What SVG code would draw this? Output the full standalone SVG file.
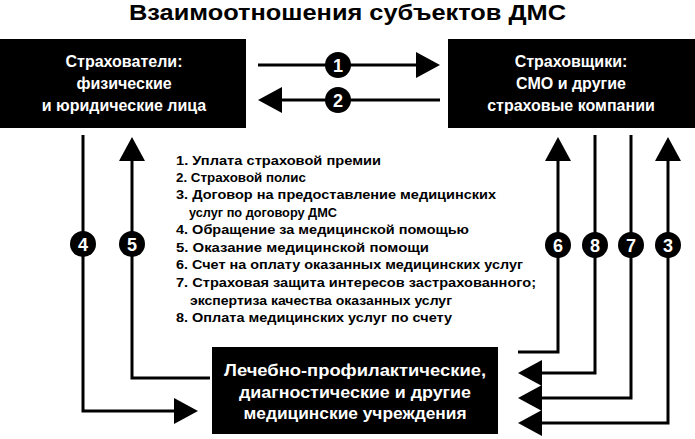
<svg xmlns="http://www.w3.org/2000/svg" width="695" height="439" viewBox="0 0 695 439">
<style>
.box{fill:#000}
.bt{font-family:"Liberation Sans",Arial,sans-serif;font-weight:bold;font-size:16px;fill:#fff;text-anchor:middle}
.title{font-family:"Liberation Sans",Arial,sans-serif;font-weight:bold;font-size:22px;fill:#000;text-anchor:middle}
.lg{font-family:"Liberation Sans",Arial,sans-serif;font-weight:bold;font-size:12.5px;fill:#000}
.ln{fill:none;stroke:#000;stroke-width:3}
.num{font-family:"Liberation Sans",Arial,sans-serif;font-weight:bold;font-size:18px;fill:#fff;text-anchor:middle}
</style>
<defs>
<marker id="ah" markerUnits="userSpaceOnUse" markerWidth="24" markerHeight="26" refX="14" refY="13" orient="auto-start-reverse" viewBox="0 0 24 26">
<path d="M0,0 L24,13 L0,26 Z" fill="#000"/>
</marker>
</defs>
<rect width="695" height="439" fill="#fff"/>
<text class="title" x="347.5" y="20" textLength="437" lengthAdjust="spacingAndGlyphs">Взаимоотношения субъектов ДМС</text>

<g id="insurants">
<rect class="box" x="0" y="39" width="246" height="89"/>
<text class="bt" x="124" y="67">Страхователи:</text>
<text class="bt" x="124" y="89">физические</text>
<text class="bt" x="124" y="111">и юридические лица</text>
</g>
<g id="insurers">
<rect class="box" x="448" y="39" width="247" height="89"/>
<text class="bt" x="571" y="67">Страховщики:</text>
<text class="bt" x="571" y="89">СМО и другие</text>
<text class="bt" x="571" y="111">страховые компании</text>
</g>
<g id="clinics">
<rect class="box" x="212" y="347" width="286" height="87"/>
<text class="bt" x="355" y="376" textLength="262" lengthAdjust="spacingAndGlyphs">Лечебно-профилактические,</text>
<text class="bt" x="355" y="398" textLength="232" lengthAdjust="spacingAndGlyphs">диагностические и другие</text>
<text class="bt" x="355" y="419" textLength="223" lengthAdjust="spacingAndGlyphs">медицинские учреждения</text>
</g>

<g id="legend">
<text class="lg" x="176" y="164.5" textLength="205" lengthAdjust="spacingAndGlyphs">1. Уплата страховой премии</text>
<text class="lg" x="176" y="181.5" textLength="130" lengthAdjust="spacingAndGlyphs">2. Страховой полис</text>
<text class="lg" x="176" y="199" textLength="320" lengthAdjust="spacingAndGlyphs">3. Договор на предоставление медицинских</text>
<text class="lg" x="189" y="216.5" textLength="148" lengthAdjust="spacingAndGlyphs">услуг по договору ДМС</text>
<text class="lg" x="176" y="234" textLength="293" lengthAdjust="spacingAndGlyphs">4. Обращение за медицинской помощью</text>
<text class="lg" x="176" y="251.5" textLength="253" lengthAdjust="spacingAndGlyphs">5. Оказание медицинской помощи</text>
<text class="lg" x="176" y="269" textLength="347" lengthAdjust="spacingAndGlyphs">6. Счет на оплату оказанных медицинских услуг</text>
<text class="lg" x="176" y="287" textLength="360" lengthAdjust="spacingAndGlyphs">7. Страховая защита интересов застрахованного;</text>
<text class="lg" x="190" y="304.5" textLength="262" lengthAdjust="spacingAndGlyphs">экспертиза качества оказанных услуг</text>
<text class="lg" x="176" y="322" textLength="276" lengthAdjust="spacingAndGlyphs">8. Оплата медицинских услуг по счету</text>
</g>

<g id="connectors">
<path class="ln" d="M258,65 H430" marker-end="url(#ah)"/>
<path class="ln" d="M440,100 H268" marker-end="url(#ah)"/>
<path class="ln" d="M83,135 V411 H188" marker-end="url(#ah)"/>
<path class="ln" d="M210,378 H132 V147" marker-end="url(#ah)"/>
<path class="ln" d="M518,352 H558 V147" marker-end="url(#ah)"/>
<path class="ln" d="M595,135 V373 H528" marker-end="url(#ah)"/>
<path class="ln" d="M631,135 V398 H528" marker-end="url(#ah)"/>
<path class="ln" d="M528,423 H668 V147" marker-start="url(#ah)" marker-end="url(#ah)"/>
<circle cx="338" cy="65" r="13"/><text class="num" x="338" y="71.5">1</text>
<circle cx="338" cy="100" r="13"/><text class="num" x="338" y="106.5">2</text>
<circle cx="83" cy="244" r="13"/><text class="num" x="83" y="250.5">4</text>
<circle cx="132" cy="244" r="13"/><text class="num" x="132" y="250.5">5</text>
<circle cx="558" cy="245" r="13"/><text class="num" x="558" y="251.5">6</text>
<circle cx="595" cy="245" r="13"/><text class="num" x="595" y="251.5">8</text>
<circle cx="631" cy="245" r="13"/><text class="num" x="631" y="251.5">7</text>
<circle cx="668" cy="245" r="13"/><text class="num" x="668" y="251.5">3</text>
</g>
</svg>
